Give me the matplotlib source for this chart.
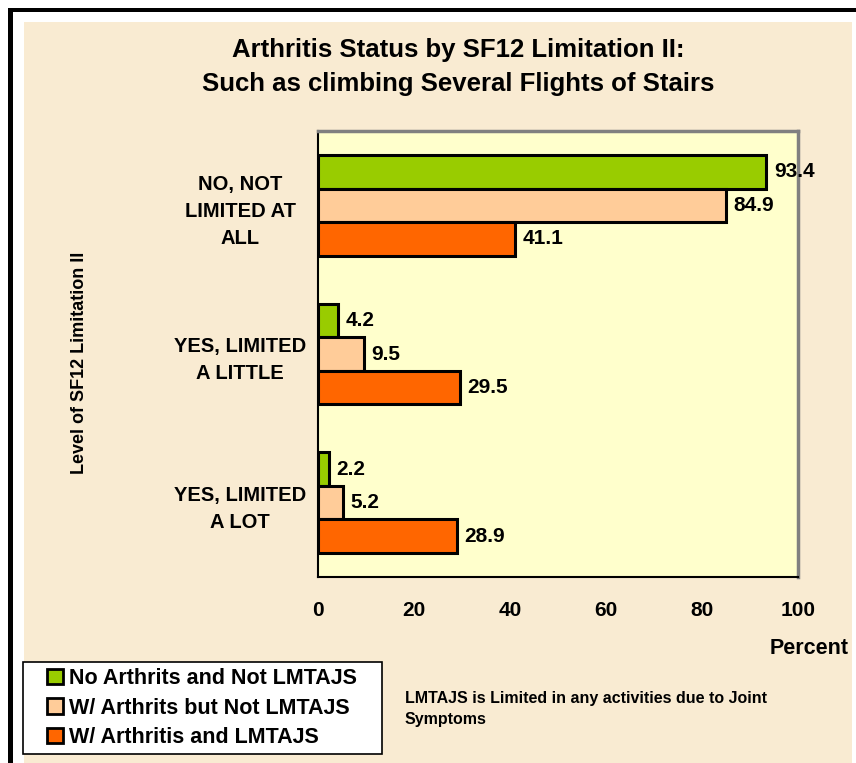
import matplotlib
matplotlib.use("Agg")
from matplotlib import pyplot as plt
from matplotlib.patches import Rectangle
import numpy as np

plt.rcParams["font.family"] = ["Liberation Sans", "DejaVu Sans"]
plt.rcParams["font.weight"] = "bold"

c_green = "#99CC00"
c_peach = "#FFCC99"
c_orange = "#FF6600"
c_parch = "#F9EBD2"
c_plot = "#FFFFCC"

categories = ["NO, NOT\nLIMITED AT\nALL", "YES, LIMITED\nA LITTLE", "YES, LIMITED\nA LOT"]
series_names = ["No Arthrits and Not LMTAJS", "W/ Arthrits but Not LMTAJS", "W/ Arthritis and LMTAJS"]
no_arth = [93.4, 4.2, 2.2]
arth_not_lim = [84.9, 9.5, 5.2]
arth_lim = [41.1, 29.5, 28.9]
xticks = [0, 20, 40, 60, 80, 100]

W, H = 856, 763
fig = plt.figure(figsize=(W / 100, H / 100), dpi=100)
fig.patch.set_facecolor("white")

def fx(x):
    return x / W

def fy(y):
    return 1 - y / H

# parchment background, black frame, legend box
fig.patches.append(Rectangle((fx(24), 0), fx(852) - fx(24), fy(22), transform=fig.transFigure,
                             facecolor=c_parch, edgecolor="none", zorder=0))
fig.patches.append(Rectangle((fx(8), fy(12)), fx(856) - fx(8), fy(8) - fy(12), transform=fig.transFigure,
                             facecolor="black", edgecolor="none", zorder=1))
fig.patches.append(Rectangle((fx(8), 0), fx(13) - fx(8), fy(8), transform=fig.transFigure,
                             facecolor="black", edgecolor="none", zorder=1))
fig.patches.append(Rectangle((fx(23), fy(754)), fx(382) - fx(23), fy(662) - fy(754), transform=fig.transFigure,
                             facecolor="white", edgecolor="black", linewidth=1.2, zorder=2))

ax = fig.add_axes([fx(318), fy(577), fx(798) - fx(318), fy(131) - fy(577)])
ax.set_zorder(5)
ax.set_facecolor(c_plot)

y = np.arange(len(categories))
h = 0.225
series = [no_arth, arth_not_lim, arth_lim]
colors = [c_green, c_peach, c_orange]
for i, (vals, col, name) in enumerate(zip(series, colors, series_names)):
    pos = y + (i - 1) * h
    ax.barh(pos, vals, height=h, color=col, edgecolor="black", linewidth=2.2, label=name, zorder=3)
    for p, v in zip(pos, vals):
        ax.text(v + 1.6, p, f"{v:.1f}", va="center", ha="left", fontsize=15, fontweight="bold", zorder=4)

ax.set_xlim(0, 100)
ax.set_ylim(2.5, -0.5)
ax.set_xticks(xticks)
ax.set_xticklabels([str(t) for t in xticks], fontsize=15, fontweight="bold")
ax.set_yticks(y)
ax.set_yticklabels(categories, fontsize=14.5, fontweight="bold", ha="center", linespacing=1.55)
ax.tick_params(axis="y", length=0, pad=56)
ax.tick_params(axis="x", length=0, pad=17)
for s in ["left", "bottom"]:
    ax.spines[s].set_color("black")
    ax.spines[s].set_linewidth(1.5)
for s in ["top", "right"]:
    ax.spines[s].set_color("#808080")
    ax.spines[s].set_linewidth(2.5)

fig.text(fx(458), fy(67), "Arthritis Status by SF12 Limitation II:\nSuch as climbing Several Flights of Stairs",
         ha="center", va="center", fontsize=18.5, fontweight="bold", linespacing=1.5)
fig.text(fx(80), fy(363), "Level of SF12 Limitation II", rotation=90, ha="center", va="center",
         fontsize=13, fontweight="bold")
fig.text(fx(809), fy(648), "Percent", ha="center", va="center", fontsize=15.5, fontweight="bold")
fig.text(fx(405), fy(709), "LMTAJS is Limited in any activities due to Joint\nSymptoms",
         ha="left", va="center", fontsize=11.5, fontweight="bold", linespacing=1.45)

handles, labels = ax.get_legend_handles_labels()
leg = fig.legend(handles, labels, loc="center left", bbox_to_anchor=(fx(47), fy(708)),
                 bbox_transform=fig.transFigure, frameon=False,
                 prop={"size": 15.5, "weight": "bold"}, handlelength=0.72, handleheight=0.72,
                 handletextpad=0.3, labelspacing=0.4, borderpad=0, borderaxespad=0)
leg.set_zorder(6)
for hnd in leg.legend_handles:
    hnd.set_linewidth(2)

plt.savefig("out.png", dpi=100, facecolor=fig.get_facecolor())
